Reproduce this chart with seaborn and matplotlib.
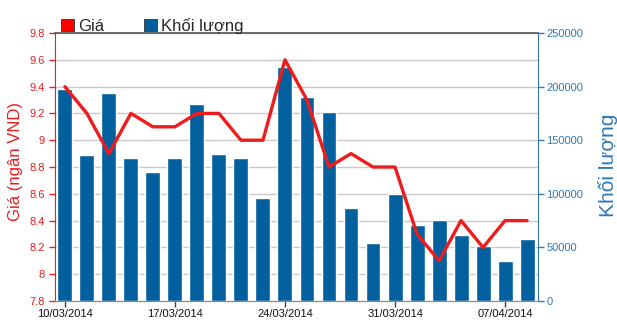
import numpy as np
import pandas as pd
import matplotlib
matplotlib.use("Agg")
import matplotlib.pyplot as plt
from matplotlib.patches import Patch
from matplotlib.ticker import MultipleLocator
import seaborn as sns

# Trading sessions 10/03/2014 - 08/04/2014
dates = ["10/03/2014", "11/03/2014", "12/03/2014", "13/03/2014", "14/03/2014",
         "17/03/2014", "18/03/2014", "19/03/2014", "20/03/2014", "21/03/2014",
         "24/03/2014", "25/03/2014", "26/03/2014", "27/03/2014", "28/03/2014",
         "31/03/2014", "01/04/2014", "02/04/2014", "03/04/2014", "04/04/2014",
         "07/04/2014", "08/04/2014"]
price = [9.4, 9.2, 8.9, 9.2, 9.1, 9.1, 9.2, 9.2, 9.0, 9.0,
         9.6, 9.3, 8.8, 8.9, 8.8, 8.8, 8.3, 8.1, 8.4, 8.2,
         8.4, 8.4]
volume = [198000, 136000, 194000, 133000, 120000, 133000, 183500, 137000, 133000, 96000,
          218500, 190500, 176500, 87000, 54000, 100000, 71000, 76000, 62000, 51500,
          37500, 58000]
tick_labels = ["10/03/2014", "17/03/2014", "24/03/2014", "31/03/2014", "07/04/2014"]

RED = "#ee1c1c"
BLUE_BAR = "#03609f"
BLUE_AX = "#2f78b4"

sns.set_style("white")
plt.rcParams["font.family"] = ["Liberation Sans", "DejaVu Sans"]

df = pd.DataFrame({"date": dates, "price": price, "volume": volume,
                   "pos": np.arange(len(dates))})

fig = plt.figure(figsize=(6.17, 3.23), dpi=100)
ax = fig.add_axes([0.0891, 0.0681, 0.783, 0.8297])
ax2 = ax.twinx()

# volume bars on the right axis
sns.barplot(data=df, x="date", y="volume", ax=ax2, color=BLUE_BAR,
            saturation=1, width=0.68, zorder=2)
# price line on the left axis, drawn above the bars
sns.lineplot(data=df, x="pos", y="price", ax=ax, color=RED, lw=2.4, zorder=5)
ax.set_zorder(ax2.get_zorder() + 1)
ax.patch.set_visible(False)

ax.set_xlim(-0.45, 21.5)
ax.set_ylim(7.8, 9.8)
yt = np.round(np.arange(7.8, 9.81, 0.2), 1)
ax.set_yticks(yt)
ax.set_yticklabels([f"{v:g}" for v in yt])
ax2.set_ylim(0, 250000)
ax2.yaxis.set_major_locator(MultipleLocator(50000))
ax2.yaxis.set_minor_locator(MultipleLocator(25000))
ax2.grid(True, which="both", axis="y", color="#c9c9c9", lw=1, zorder=0)
ax2.set_axisbelow(True)
ax.grid(False)

ax.set_xticks([0, 5, 10, 15, 20])
ax.set_xticklabels(tick_labels)

ax.tick_params(axis="y", colors=RED, labelsize=8, length=4, width=1, direction="out", left=True)
ax.tick_params(axis="x", colors="#444444", labelcolor="#111111", labelsize=8,
               length=4, width=1, direction="out", bottom=True, pad=2)
ax2.tick_params(axis="y", which="major", colors=BLUE_AX, labelsize=8, length=4,
                width=1, direction="out", right=True, pad=2)
ax2.tick_params(axis="y", which="minor", length=0)

ax.set_xlabel("")
ax.set_ylabel("Giá (ngân VND)", color=RED, fontsize=12)
ax.yaxis.set_label_coords(-0.066, 0.52)
ax2.set_xlabel("")
ax2.set_ylabel("Khối lượng", color=BLUE_AX, fontsize=15)
ax2.yaxis.set_label_coords(1.124, 0.505)

for s in ["left", "right", "top", "bottom"]:
    ax2.spines[s].set_visible(False)
ax2.spines["right"].set_visible(True)
ax2.spines["right"].set_color(BLUE_AX)
ax.spines["right"].set_visible(False)
ax.spines["left"].set_color(RED)
ax.spines["top"].set_color("#555555")
ax.spines["top"].set_linewidth(1.2)
ax.spines["bottom"].set_color("#888888")

handles = [Patch(facecolor="#ff0000", edgecolor="#333333", lw=0.6, label="Giá"),
           Patch(facecolor=BLUE_BAR, edgecolor="#333333", lw=0.6, label="Khối lượng")]
fig.legend(handles=handles, loc="lower left", bbox_to_anchor=(0.0995, 0.895),
           ncol=2, frameon=False, fontsize=12, handlelength=0.75, handleheight=0.75,
           handletextpad=0.25, columnspacing=2.4, borderpad=0, borderaxespad=0)

fig.savefig("out.png", dpi=100)
